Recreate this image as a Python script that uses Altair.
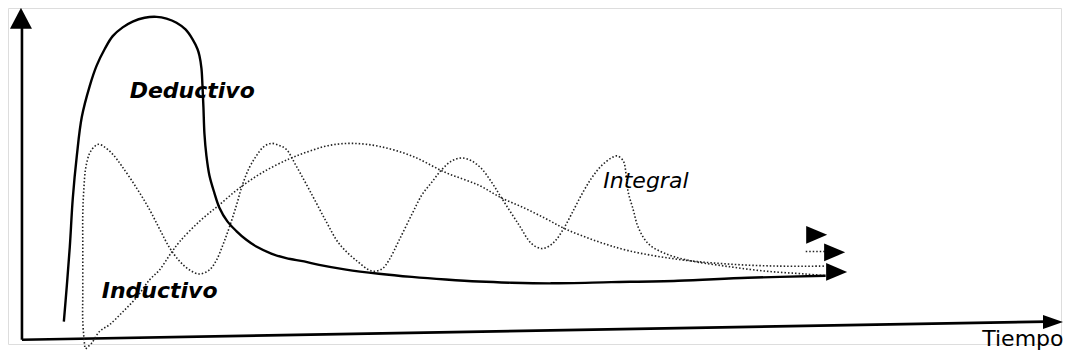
import altair as alt
import pandas as pd

# ---- data (time units, interest units) ----
deductivo_t = [4.2, 4.5, 4.8, 5.1, 5.5, 6.0, 6.8, 7.5, 8.3, 9.1, 10.1, 11.1, 12.3, 13.5, 14.5, 15.5,
               16.4, 17.1, 17.6, 17.8, 18.0, 18.1, 18.2, 18.3, 18.5, 18.8, 19.3, 19.8, 20.6, 21.5,
               22.5, 23.5, 25.0, 26.5, 28.3, 29.8, 32.5, 35.8, 39.1, 42.5, 45.8, 49.1, 53.1, 59.1,
               65.8, 72.8, 80.6]
deductivo_v = [6.0, 18.3, 31.7, 48.3, 62.7, 76.0, 86.7, 93.7, 99.3, 103.7, 106.7, 108.7, 110.0, 110.3,
               109.7, 108.3, 106.0, 102.7, 99.3, 97.0, 92.7, 87.0, 79.3, 70.3, 62.7, 56.0, 50.0, 45.0,
               40.3, 37.0, 34.0, 31.7, 29.3, 27.7, 26.6, 25.4, 23.8, 22.4, 21.3, 20.4, 19.7, 19.3,
               19.1, 19.5, 20.0, 21.0, 21.7]

integral_t = [6.3, 6.1, 6.1, 6.1, 6.1, 6.2, 6.4, 6.8, 7.3, 7.7, 8.3, 9.1, 10.0, 11.5, 12.8, 13.8,
              14.8, 15.8, 16.8, 17.8, 18.8, 19.5, 20.2, 20.8, 21.5, 22.1, 22.8, 23.5, 24.2, 25.0,
              25.8, 26.5, 27.5, 29.1, 30.5, 31.8, 33.5, 35.1, 36.1, 36.8, 37.8, 39.1, 40.1, 41.1,
              42.1, 43.1, 44.1, 45.1, 46.1, 47.1, 48.1, 49.8, 51.1, 52.1, 52.8, 53.5, 54.3, 55.1,
              56.1, 57.1, 58.1, 59.1, 59.7, 60.3, 60.6, 60.8, 61.3, 61.8, 62.8, 64.5, 66.8, 70.5,
              74.5, 78.5, 80.6]
integral_v = [-2.7, 6.0, 16.0, 31.7, 42.7, 51.0, 58.7, 63.7, 66.0, 66.7, 65.7, 63.3, 59.3, 51.7,
              44.3, 37.7, 31.3, 26.7, 23.7, 22.3, 23.7, 27.0, 32.7, 38.3, 45.7, 52.7, 58.7, 62.7,
              65.7, 67.0, 66.3, 65.0, 59.3, 49.3, 40.3, 32.7, 27.0, 23.3, 24.0, 27.0, 33.7, 42.7,
              49.3, 53.7, 58.0, 61.0, 62.0, 61.0, 58.3, 53.7, 48.3, 39.3, 32.7, 31.0, 31.7, 33.7,
              37.7, 42.7, 49.3, 55.0, 59.3, 62.0, 62.7, 61.0, 56.0, 50.3, 44.3, 38.3, 32.7, 29.3,
              27.0, 25.0, 23.3, 22.3, 21.7]

inductivo_t = [6.4, 7.0, 7.8, 8.8, 10.1, 11.5, 12.8, 13.8, 14.8, 15.8, 17.8, 19.8, 21.8, 24.1,
               26.8, 28.8, 30.8, 33.1, 35.8, 39.1, 42.5, 45.8, 48.1, 50.3, 52.5, 54.5, 57.5, 60.8,
               65.8, 70.8, 75.8, 80.6]
inductivo_v = [-3.3, -1.3, 2.7, 5.0, 9.3, 14.3, 20.3, 23.7, 28.7, 33.3, 40.3, 46.0, 51.7, 57.0,
               61.7, 64.3, 66.3, 67.0, 66.0, 62.7, 57.0, 52.7, 48.3, 45.0, 41.3, 37.7, 33.7, 30.3,
               27.3, 25.7, 25.0, 25.0]

stub_t = [78.6, 80.6]
stub_v = [30.0, 30.0]

arrow_t = [79.7, 81.5, 81.7]
arrow_v = [35.7, 29.7, 23.0]

label_text = ["Deductivo", "Inductivo", "Integral", "Tiempo"]
label_t = [10.8, 8.0, 58.3, 96.3]
label_v = [82.7, 14.0, 51.7, -2.3]

# ---- tables ----
def series(t, v):
    return pd.DataFrame({"t": t, "v": v, "i": list(range(len(t)))})

ded = series(deductivo_t, deductivo_v)
itg = series(integral_t, integral_v)
ind = series(inductivo_t, inductivo_v)
stub = series(stub_t, stub_v)
arrows = pd.DataFrame({"t": arrow_t, "v": arrow_v})
labels = pd.DataFrame({"text": label_text, "t": label_t, "v": label_v})
axes_df = pd.DataFrame({"t": [0.0, 0.0], "v": [-0.2, -0.2], "t2": [0.0, 102.8], "v2": [107.7, 6.0]})

X = alt.Scale(domain=[-1.4, 104.2], nice=False, zero=False)
Y = alt.Scale(domain=[-1.667, 113.333], nice=False, zero=False)
xe = alt.X("t:Q", scale=X, axis=None)
ye = alt.Y("v:Q", scale=Y, axis=None)

axes_rule = alt.Chart(axes_df).mark_rule(color="black", strokeWidth=2.6).encode(
    x=xe, y=ye, x2="t2:Q", y2="v2:Q")

yarrow = alt.Chart(pd.DataFrame({"t": [-0.1], "v": [110.0]})).mark_point(
    shape="M-1,1L0,-0.9L1,1Z", filled=True, size=484, color="black", opacity=1, strokeWidth=0
).encode(x=xe, y=ye)

xarrow = alt.Chart(pd.DataFrame({"t": [103.4], "v": [5.9]})).mark_point(
    shape="M-1,-0.7L1,0L-1,0.7Z", filled=True, size=400, color="black", opacity=1, strokeWidth=0
).encode(x=xe, y=ye)

ded_line = alt.Chart(ded).mark_line(color="black", strokeWidth=2.4, interpolate="catmull-rom").encode(
    x=xe, y=ye, order="i:Q")

dotted = dict(color="#222222", strokeWidth=1.6, strokeDash=[1.5, 2], interpolate="catmull-rom")
itg_line = alt.Chart(itg).mark_line(**dotted).encode(x=xe, y=ye, order="i:Q")
ind_line = alt.Chart(ind).mark_line(**dotted).encode(x=xe, y=ye, order="i:Q")
stub_line = alt.Chart(stub).mark_line(color="#222222", strokeWidth=1.6, strokeDash=[1.5, 2]).encode(
    x=xe, y=ye, order="i:Q")

heads = alt.Chart(arrows).mark_point(
    shape="M-1,-0.85L1,0L-1,0.85Z", filled=True, size=441, color="black", opacity=1, strokeWidth=0
).encode(x=xe, y=ye)

def label(name, weight, style):
    return alt.Chart(labels[labels["text"] == name]).mark_text(
        align="left", baseline="alphabetic", font="DejaVu Sans", fontSize=22,
        fontWeight=weight, fontStyle=style, color="black"
    ).encode(x=xe, y=ye, text="text:N")

texts = (label("Deductivo", "bold", "italic") + label("Inductivo", "bold", "italic")
         + label("Integral", "normal", "italic") + label("Tiempo", "normal", "normal"))

chart = alt.layer(
    axes_rule, yarrow, xarrow, ind_line, itg_line, stub_line, ded_line, heads, texts
).properties(
    width=1056, height=345,
    autosize=alt.AutoSizeParams(type="fit", contains="padding"),
    padding=0,
).configure_view(stroke="transparent", strokeWidth=0).configure(background="white")

chart.save("out.html", embed_options={"renderer": "svg", "actions": False})
